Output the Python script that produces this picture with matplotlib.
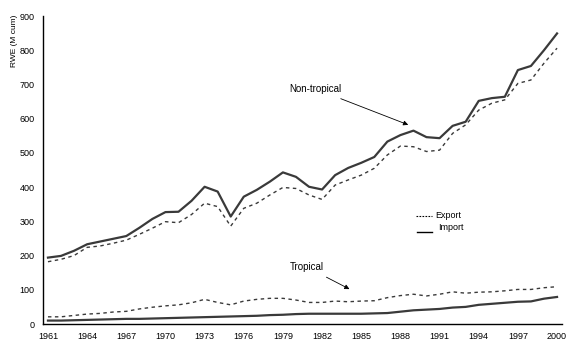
import numpy as np
import matplotlib
matplotlib.use('Agg')
import matplotlib.pyplot as plt

plt.rcParams['font.family'] = ['Liberation Sans', 'DejaVu Sans']

years = list(range(1961, 2001))

# non-tropical
nt_import = [194, 199, 214, 233, 241, 249, 257, 281, 307, 327, 328, 360, 401, 387, 314, 372,
             392, 416, 443, 430, 401, 393, 435, 456, 471, 488, 533, 552, 565, 546, 543, 579,
             591, 652, 660, 664, 742, 754, 800, 849]
nt_export = [182, 189, 200, 224, 228, 236, 245, 262, 280, 299, 296, 320, 353, 343, 286, 338,
             353, 377, 399, 396, 377, 364, 406, 421, 435, 455, 494, 520, 518, 504, 508, 557,
             582, 625, 645, 655, 703, 713, 762, 806]

# tropical
tr_import = [10, 10, 11, 12, 13, 14, 15, 15, 16, 17, 18, 19, 20, 21, 22, 23, 24, 26, 27, 29,
             30, 30, 30, 30, 30, 31, 32, 36, 40, 42, 44, 48, 50, 56, 59, 62, 65, 66, 74, 79]
tr_export = [21, 21, 25, 29, 31, 35, 37, 44, 49, 53, 56, 62, 72, 63, 56, 67, 72, 75, 75, 70,
             63, 63, 67, 65, 67, 68, 77, 83, 87, 82, 87, 94, 90, 93, 94, 97, 101, 101, 106, 109]

xticks = list(range(1961, 2001, 3))
col = '#3a3a3a'

fig = plt.figure(figsize=(5.71, 3.51), dpi=100)
ax = fig.add_axes([43/571, 1 - 324/351, (562 - 43)/571, (324 - 16)/351])

ax.plot(years, nt_export, color=col, lw=1.0, ls=(0, (2.5, 2.5)))
ax.plot(years, nt_import, color=col, lw=1.6)
ax.plot(years, tr_export, color=col, lw=1.0, ls=(0, (2.5, 2.5)))
ax.plot(years, tr_import, color=col, lw=1.6)

ax.set_xlim(1960.62, 2000.38)
ax.set_ylim(0, 900)
ax.set_xticks(xticks)
ax.set_xticklabels([str(y) for y in xticks], fontsize=6.5)
ax.set_yticks(range(0, 901, 100))
ax.set_yticklabels([str(v) for v in range(0, 901, 100)], fontsize=6.5)
ax.tick_params(length=0, pad=6)
for s in ['top', 'right']:
    ax.spines[s].set_visible(False)
for s in ['left', 'bottom']:
    ax.spines[s].set_linewidth(1.0)
    ax.spines[s].set_color('black')

fig.text(14/571, 1 - 15/351, 'RWE (M cum)', rotation=90, fontsize=6,
         ha='center', va='top')

# annotations
ax.annotate('Non-tropical', xy=(1988.6, 582), xytext=(1979.5, 687), fontsize=7,
            ha='left', va='center',
            arrowprops=dict(arrowstyle='-|>', color='black', lw=0.6,
                            shrinkA=4, shrinkB=0, mutation_scale=7))
ax.annotate('Tropical', xy=(1984.1, 102), xytext=(1979.5, 167), fontsize=7,
            ha='left', va='center',
            arrowprops=dict(arrowstyle='-|>', color='black', lw=0.6,
                            shrinkA=4, shrinkB=0, mutation_scale=7))

# legend drawn by hand, like the original
ax.plot([1989.2, 1990.4], [316, 316], color='black', lw=0.8, ls=(0, (1.5, 1.2)))
ax.plot([1989.3, 1990.4], [269, 269], color='black', lw=1.0)
ax.text(1990.65, 318, 'Export', fontsize=6.5, va='center')
ax.text(1990.9, 283, 'Import', fontsize=6.5, va='center')

fig.savefig('out.png', dpi=100)
